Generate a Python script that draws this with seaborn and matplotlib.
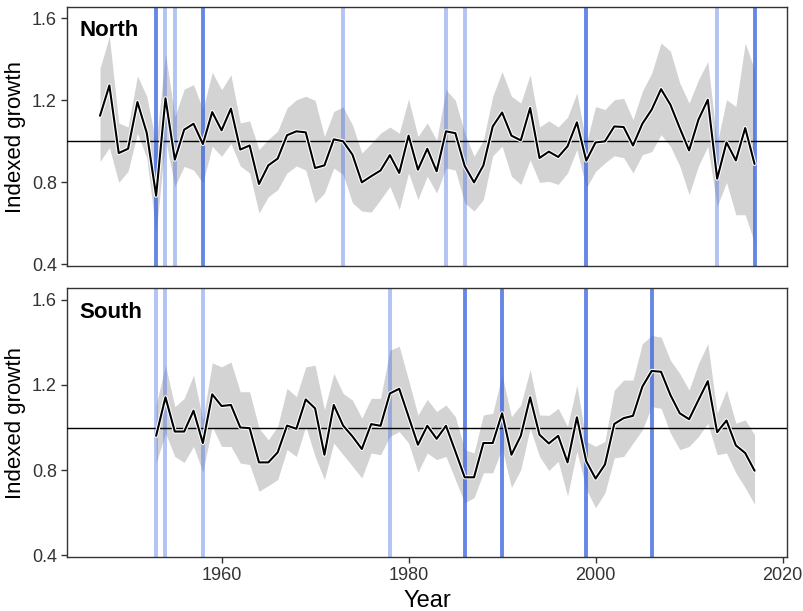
import seaborn as sns
import matplotlib.pyplot as plt
import matplotlib.patheffects as pe
import pandas as pd
import numpy as np

sns.set_style("ticks")
plt.rcParams['font.family'] = ['Liberation Sans', 'DejaVu Sans']
plt.rcParams['text.color'] = 'black'
plt.rcParams['axes.labelcolor'] = 'black'

north_years = list(range(1947, 2018))
north_growth = [1.125, 1.273, 0.943, 0.964, 1.192, 1.041, 0.735, 1.21, 0.911, 1.057,
                1.086, 0.987, 1.143, 1.054, 1.16, 0.96, 0.98, 0.792, 0.883, 0.916,
                1.03, 1.049, 1.044, 0.87, 0.883, 1.01, 1.0, 0.935, 0.80, 0.83,
                0.858, 0.933, 0.846, 1.028, 0.862, 0.964, 0.854, 1.049, 1.04, 0.88,
                0.80, 0.883, 1.073, 1.141, 1.028, 1.005, 1.163, 0.919, 0.95, 0.924,
                0.976, 1.093, 0.906, 0.995, 1.0, 1.073, 1.07, 0.98, 1.086, 1.155,
                1.255, 1.179, 1.065, 0.956, 1.106, 1.203, 0.818, 0.995, 0.907, 1.065,
                0.89]
north_upper = [1.358, 1.512, 1.09, 1.07, 1.32, 1.22, 0.99, 1.43, 1.12, 1.255,
               1.277, 1.155, 1.337, 1.252, 1.325, 1.09, 1.1, 0.96, 1.01, 1.05,
               1.163, 1.203, 1.22, 1.2, 1.024, 1.146, 1.168, 1.08, 0.943, 0.99,
               1.04, 1.07, 1.04, 1.207, 1.024, 1.09, 1.005, 1.252, 1.2, 1.04,
               0.927, 1.005, 1.22, 1.34, 1.22, 1.187, 1.325, 1.07, 1.1, 1.07,
               1.118, 1.236, 0.99, 1.17, 1.155, 1.203, 1.21, 1.106, 1.244, 1.333,
               1.48, 1.44, 1.285, 1.187, 1.30, 1.39, 0.99, 1.203, 1.17, 1.48,
               1.35]
north_lower = [0.902, 0.97, 0.80, 0.854, 1.04, 0.92, 0.553, 1.01, 0.78, 0.878,
               0.86, 0.797, 0.976, 0.927, 0.99, 0.88, 0.846, 0.65, 0.73, 0.764,
               0.846, 0.88, 0.86, 0.70, 0.748, 0.87, 0.838, 0.70, 0.66, 0.655,
               0.716, 0.78, 0.667, 0.846, 0.716, 0.83, 0.748, 0.87, 0.86, 0.70,
               0.66, 0.716, 0.93, 0.976, 0.83, 0.79, 0.91, 0.80, 0.805, 0.79,
               0.846, 0.96, 0.772, 0.854, 0.895, 0.93, 0.92, 0.846, 0.935, 0.95,
               1.033, 0.976, 0.88, 0.74, 0.88, 0.976, 0.683, 0.80, 0.642, 0.642,
               0.504]
north_dark = [1953, 1958, 1999, 2017]
north_light = [1954, 1955, 1973, 1984, 1986, 2013]

south_years = list(range(1953, 2018))
south_growth = [0.961, 1.142, 0.981, 0.981, 1.079, 0.927, 1.156, 1.101, 1.106, 1.0,
                0.997, 0.836, 0.836, 0.883, 1.009, 0.994, 1.132, 1.09, 0.872, 1.106,
                1.009, 0.958, 0.899, 1.016, 1.008, 1.16, 1.182, 1.051, 0.919, 1.008,
                0.947, 1.008, 0.888, 0.766, 0.766, 0.927, 0.927, 1.067, 0.872, 0.961,
                1.142, 0.966, 0.925, 0.961, 0.836, 1.048, 0.841, 0.76, 0.826, 1.017,
                1.044, 1.055, 1.192, 1.266, 1.262, 1.153, 1.067, 1.039, 1.129, 1.218,
                0.978, 1.033, 0.916, 0.88, 0.797]
south_upper = [1.106, 1.293, 1.098, 1.137, 1.246, 1.036, 1.304, 1.285, 1.308, 1.168,
               1.168, 0.997, 0.942, 1.005, 1.184, 1.145, 1.285, 1.293, 1.083, 1.254,
               1.16, 1.129, 1.044, 1.137, 1.137, 1.363, 1.382, 1.223, 1.059, 1.132,
               1.075, 1.106, 1.051, 0.896, 0.88, 1.059, 1.067, 1.246, 1.051, 1.106,
               1.273, 1.059, 1.057, 1.09, 1.005, 1.2, 0.935, 0.911, 0.935, 1.176,
               1.223, 1.223, 1.394, 1.433, 1.425, 1.316, 1.254, 1.176, 1.301, 1.394,
               1.067, 1.176, 1.02, 1.036, 0.966]
south_lower = [0.833, 0.974, 0.864, 0.836, 0.911, 0.79, 1.005, 0.911, 0.911, 0.833,
               0.826, 0.70, 0.727, 0.755, 0.896, 0.864, 1.005, 0.864, 0.755, 0.927,
               0.872, 0.818, 0.763, 0.88, 0.872, 0.958, 0.981, 0.927, 0.79, 0.88,
               0.849, 0.864, 0.755, 0.646, 0.67, 0.787, 0.787, 0.903, 0.717, 0.802,
               0.997, 0.864, 0.798, 0.841, 0.678, 0.888, 0.709, 0.623, 0.693, 0.857,
               0.864, 0.927, 0.989, 1.098, 1.09, 0.974, 0.896, 0.911, 0.958, 1.02,
               0.872, 0.88, 0.787, 0.717, 0.639]
south_dark = [1986, 1990, 1999, 2006]
south_light = [1953, 1954, 1958, 1978]

panels = [
    ("North", north_years, north_growth, north_upper, north_lower, north_dark, north_light),
    ("South", south_years, south_growth, south_upper, south_lower, south_dark, south_light),
]

fig = plt.figure(figsize=(8.04, 6.11), dpi=100)
ax_top = fig.add_axes([0.0837, 0.565, 0.8955, 0.423])
ax_bot = fig.add_axes([0.0837, 0.089, 0.8955, 0.439])

for ax, (name, years, growth, upper, lower, dark, light) in zip([ax_top, ax_bot], panels):
    df = pd.DataFrame({"Year": years, "growth": growth, "upper": upper, "lower": lower})
    ax.fill_between(df["Year"], df["lower"], df["upper"], color="#d3d3d3", lw=0, zorder=1)
    for yr in dark:
        ax.axvline(yr, color="#4169e1", alpha=0.8, lw=2.8, zorder=2)
    for yr in light:
        ax.axvline(yr, color="#4169e1", alpha=0.4, lw=2.8, zorder=2)
    ax.axhline(1.0, color="black", lw=1.0, zorder=3)
    sns.lineplot(data=df, x="Year", y="growth", ax=ax, color="black", lw=1.5, zorder=4,
                 path_effects=[pe.Stroke(linewidth=3.0, foreground="white"), pe.Normal()])
    ax.set_xlim(1943.5, 2020.5)
    ax.set_ylim(0.393, 1.654)
    ax.set_yticks([0.4, 0.8, 1.2, 1.6])
    ax.set_yticklabels(["0.4", "0.8", "1.2", "1.6"])
    ax.set_ylabel("Indexed growth", fontsize=16, color="black")
    ax.text(0.017, 0.95, name, transform=ax.transAxes, fontsize=16, fontweight="bold",
            va="top", ha="left", color="black")
    ax.tick_params(axis="both", labelsize=13, labelcolor="#333333", length=4, width=1, color="#333333")
    for sp in ax.spines.values():
        sp.set_visible(True)
        sp.set_color("#333333")
        sp.set_linewidth(1.0)

ax_top.set_xticks([1960, 1980, 2000, 2020])
ax_top.tick_params(axis="x", length=0, labelbottom=False)
ax_top.set_xlabel("")
ax_bot.set_xticks([1960, 1980, 2000, 2020])
ax_bot.set_xticklabels(["1960", "1980", "2000", "2020"])
ax_bot.set_xlabel("Year", fontsize=17, color="black")

fig.savefig("out.png", dpi=100)
